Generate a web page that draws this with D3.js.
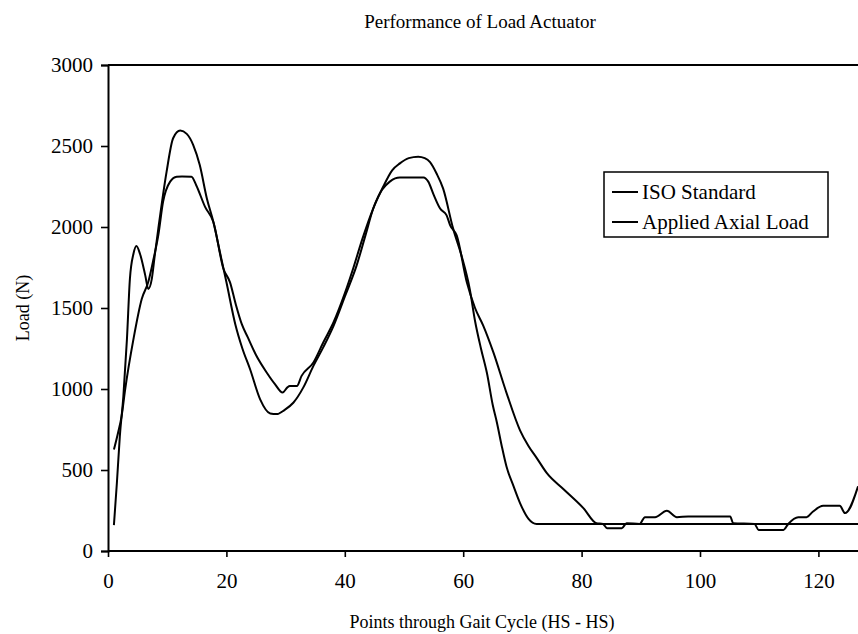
<!DOCTYPE html>
<html>
<head>
<meta charset="utf-8">
<script src="https://cdn.jsdelivr.net/npm/d3@7"></script>
<style>
  body { margin: 0; background: #fff; }
</style>
</head>
<body>
<script>
  // values
  const isoX = [1, 1.5, 2, 2.6, 3.2, 3.7, 4.3, 4.8, 5.4, 6.3, 6.8, 7.4, 7.9, 8.5, 9.9, 11, 12.2, 13.3, 14.4, 15.5,
    16.7, 17.8, 18.9, 20, 21.5, 22.7, 24, 25.7, 27.4, 28.5, 29.8, 31.3, 33, 34.7, 36.4, 38.1, 40, 42, 43.5, 44.8,
    46.5, 48, 49.3, 50.8, 52.4, 53.5, 54.4, 55.5, 56.6, 58.3, 59.7, 61.1, 62, 63, 64, 65, 65.7, 66.5, 67.3, 68.5,
    69.6, 71, 72.4, 80, 90, 100, 110, 120, 127];
  const isoLoad = [160, 420, 709, 957, 1308, 1680, 1835, 1883, 1835, 1700, 1618, 1680, 1825, 1990, 2342, 2548, 2595, 2575, 2506, 2382,
    2176, 2031, 1846, 1660, 1400, 1250, 1122, 936, 849, 845, 870, 915, 1010, 1143, 1260, 1390, 1570, 1763, 1950, 2114,
    2250, 2350, 2393, 2425, 2434, 2425, 2400, 2330, 2238, 1990, 1825, 1618, 1420, 1250, 1100, 900, 792, 650, 523, 400,
    296, 200, 167, 167, 167, 167, 167, 167, 167];

  const appliedX = [1, 1.7, 2.3, 2.9, 4.3, 5.7, 6.8, 7.7, 8.5, 9.3, 10.5, 11.6, 12.5, 14.1, 14.9, 16.4, 17.8, 19.5, 20.6, 21.6,
    22.6, 23.6, 25, 26.8, 28.2, 29.5, 30.3, 30.7, 31.9, 32.7, 34.7, 36.4, 38.1, 40, 41.4, 43, 44.8, 46.3, 47.6, 48.5,
    49.3, 53.3, 54.1, 55, 56.1, 57.2, 57.8, 58.9, 60.6, 62, 63.4, 65.1, 67.3, 69.6, 71, 72.4, 74.1, 77, 80.3, 82.5,
    83.6, 84.3, 86.8, 87.6, 89.8, 90.7, 92.4, 94.4, 96.1, 98, 105.1, 105.6, 109.2, 109.9, 114.1, 114.9, 116.6, 118, 119.1, 120.8,
    123.6, 124.5, 126.7];
  const appliedLoad = [626, 730, 833, 998, 1308, 1556, 1660, 1804, 1950, 2155, 2280, 2310, 2312, 2310, 2258, 2124, 2031, 1742, 1660, 1520,
    1400, 1320, 1210, 1102, 1030, 978, 1010, 1019, 1019, 1081, 1164, 1290, 1412, 1590, 1742, 1930, 2114, 2230, 2280, 2300,
    2306, 2306, 2280, 2200, 2114, 2072, 2010, 1948, 1660, 1500, 1390, 1226, 978, 745, 650, 575, 482, 380, 265, 172,
    167, 141, 141, 172, 167, 209, 209, 248, 209, 213, 213, 172, 167, 130, 130, 167, 209, 209, 244, 279,
    279, 234, 399];

  const seriesNames = ['ISO Standard', 'Applied Axial Load'];
  const xTicks = [0, 20, 40, 60, 80, 100, 120];
  const yTicks = [0, 500, 1000, 1500, 2000, 2500, 3000];

  const WIDTH = 858;
  const HEIGHT = 634;
  const LEFT = 108;
  const TOP = 65;
  const BOTTOM = 551;
  const FONT = '"Liberation Serif", "Times New Roman", serif';

  const svg = d3.select('body').append('svg')
    .attr('width', WIDTH)
    .attr('height', HEIGHT)
    .attr('font-family', FONT);

  const xScale = d3.scaleLinear()
    .domain([0, 127])
    .range([LEFT, LEFT + 127 * 5.92]);

  const yScale = d3.scaleLinear()
    .domain([0, 3000])
    .range([BOTTOM, TOP]);

  // axes
  const axisX = d3.axisBottom(xScale).tickValues(xTicks).tickSize(6).tickPadding(16)
    .tickFormat(d3.format('d'));
  const axisY = d3.axisLeft(yScale).tickValues(yTicks).tickSize(7).tickPadding(8)
    .tickFormat(d3.format('d'));

  const gx = svg.append('g')
    .attr('transform', `translate(0,${BOTTOM})`)
    .call(axisX);
  const gy = svg.append('g')
    .attr('transform', `translate(${LEFT},0)`)
    .call(axisY);

  [gx, gy].forEach(g => {
    g.select('.domain').attr('stroke', '#000').attr('stroke-width', 2);
    g.selectAll('.tick line').attr('stroke', '#000').attr('stroke-width', 1.6);
    g.selectAll('.tick text')
      .attr('fill', '#000')
      .attr('font-family', FONT)
      .attr('font-size', 21);
  });
  gx.select('.domain').attr('d', `M${LEFT},0H${WIDTH}`);

  // top frame line
  svg.append('line')
    .attr('x1', LEFT).attr('x2', WIDTH)
    .attr('y1', TOP).attr('y2', TOP)
    .attr('stroke', '#000')
    .attr('stroke-width', 2);

  // the two curves
  const line = d3.line()
    .x(d => xScale(d[0]))
    .y(d => yScale(d[1]))
    .curve(d3.curveMonotoneX);

  const series = [
    d3.zip(isoX, isoLoad),
    d3.zip(appliedX, appliedLoad)
  ];

  svg.append('g')
    .selectAll('path')
    .data(series)
    .enter()
    .append('path')
    .attr('d', d => line(d))
    .attr('fill', 'none')
    .attr('stroke', '#000')
    .attr('stroke-width', 2)
    .attr('stroke-linejoin', 'round');

  // legend
  const legend = svg.append('g')
    .attr('transform', 'translate(604,172)');

  legend.append('rect')
    .attr('width', 224)
    .attr('height', 65)
    .attr('fill', '#fff')
    .attr('stroke', '#000')
    .attr('stroke-width', 1.5);

  const items = legend.selectAll('g')
    .data(seriesNames)
    .enter()
    .append('g')
    .attr('transform', (d, i) => `translate(0,${20 + i * 30})`);

  items.append('line')
    .attr('x1', 8).attr('x2', 34)
    .attr('stroke', '#000')
    .attr('stroke-width', 2);

  items.append('text')
    .attr('x', 38)
    .attr('y', 7)
    .attr('font-size', 21)
    .text(d => d);

  // titles
  svg.append('text')
    .attr('x', 480)
    .attr('y', 28)
    .attr('text-anchor', 'middle')
    .attr('font-size', 19)
    .text('Performance of Load Actuator');

  svg.append('text')
    .attr('x', 482)
    .attr('y', 628)
    .attr('text-anchor', 'middle')
    .attr('font-size', 18)
    .text('Points through Gait Cycle (HS - HS)');

  svg.append('text')
    .attr('transform', 'translate(29,308) rotate(-90)')
    .attr('text-anchor', 'middle')
    .attr('font-size', 18)
    .text('Load (N)');
</script>
</body>
</html>
